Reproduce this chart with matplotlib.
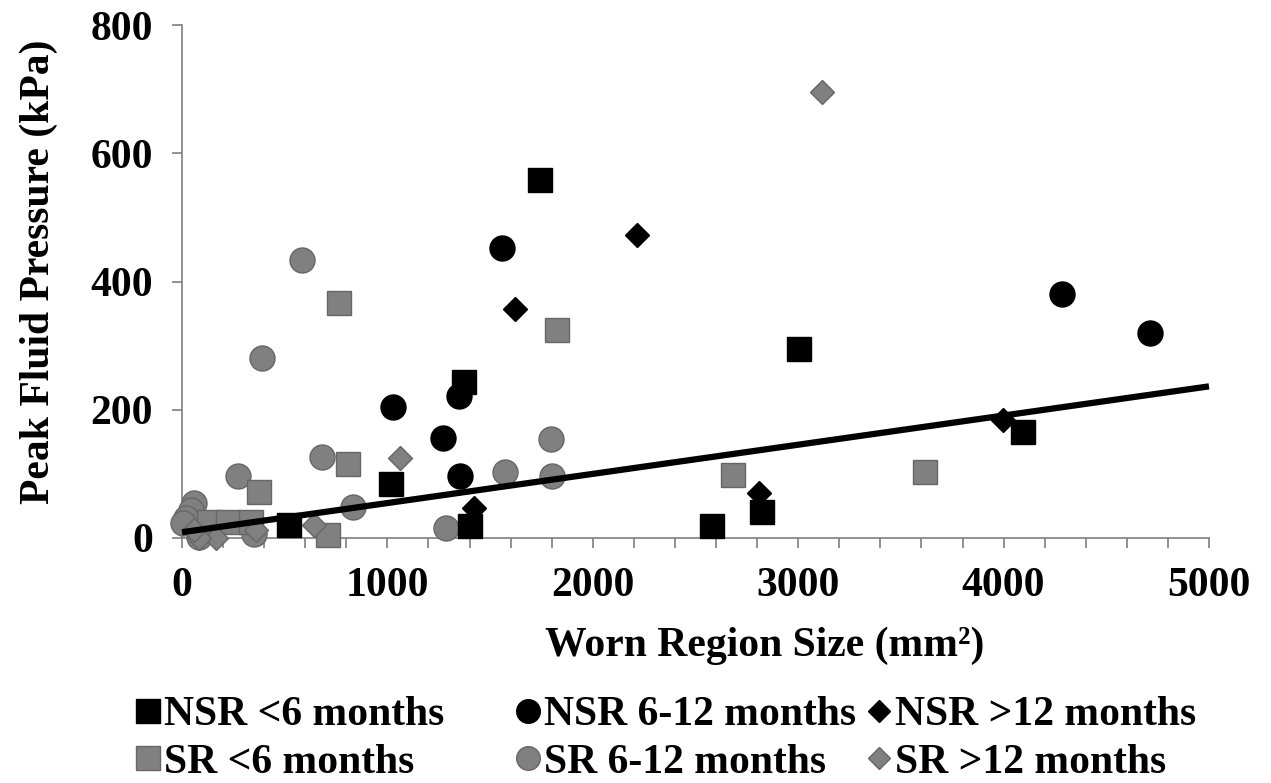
import numpy as np
import matplotlib
matplotlib.use('Agg')
import matplotlib.pyplot as plt
from matplotlib.lines import Line2D
from matplotlib.ticker import MultipleLocator

# --- Data (x: worn region size mm^2, y: peak pressure kPa)
nsr_lt6_x = [1743, 1373, 3002, 1018, 521, 1402, 2580, 2826, 4096]
nsr_lt6_y = [558, 244, 294, 84, 20, 19, 19, 41, 165]

nsr_6_12_x = [1560, 1026, 1272, 1349, 1353, 4283, 4713]
nsr_6_12_y = [453, 205, 156, 222, 97, 381, 319]

nsr_gt12_x = [2217, 1623, 1424, 2808, 3999]
nsr_gt12_y = [473, 357, 47, 70, 184]

sr_lt6_x = [766, 1824, 810, 376, 2683, 3617, 133, 222, 336, 713]
sr_lt6_y = [367, 324, 115, 72, 99, 103, 25, 25, 25, 4]

sr_6_12_x = [583, 389, 1795, 1803, 1573, 1285, 274, 680, 832, 60, 44, 19, 3, 352, 84]
sr_6_12_y = [434, 281, 154, 97, 103, 15, 96, 127, 48, 54, 44, 31, 23, 6, 2]

sr_gt12_x = [3116, 1061, 645, 360, 166, 84, 60]
sr_gt12_y = [696, 124, 20, 12, 0, 0, 12]

# linear trend line
trend_intercept = 9.0
trend_slope = 0.0455

labels = ['NSR <6 months', 'NSR 6-12 months', 'NSR >12 months',
          'SR <6 months', 'SR 6-12 months', 'SR >12 months']

plt.rcParams['font.family'] = ['Liberation Serif', 'DejaVu Serif']
plt.rcParams['font.weight'] = 'bold'

black = '#000000'
grey = '#808080'
grey_edge = '#666666'
axis_grey = '#7f7f7f'

fig = plt.figure(figsize=(12.71, 7.83), dpi=100)
ax = fig.add_axes([0.1432, 0.3129, 0.808, 0.6551])

series = [
  (sr_6_12_x, sr_6_12_y, 'o', 18, grey, grey_edge),
  (sr_lt6_x, sr_lt6_y, 's', 17, grey, grey_edge),
  (sr_gt12_x, sr_gt12_y, 'D', 12, grey, grey_edge),
  (nsr_lt6_x, nsr_lt6_y, 's', 17, black, black),
  (nsr_6_12_x, nsr_6_12_y, 'o', 18, black, black),
  (nsr_gt12_x, nsr_gt12_y, 'D', 12, black, black),
]
for xs, ys, m, ms, fc, ec in series:
  ax.plot(xs, ys, linestyle='none', marker=m, markersize=ms,
          markerfacecolor=fc, markeredgecolor=ec, markeredgewidth=1.0,
          clip_on=False, zorder=3)

# trend line
tx = np.array([0, 5000])
ax.plot(tx, trend_intercept + trend_slope * tx, color='black', linewidth=4.5,
        solid_capstyle='butt', zorder=4, clip_on=False)

ax.set_xlim(0, 5000)
ax.set_ylim(0, 800)
ax.xaxis.set_major_locator(MultipleLocator(1000))
ax.xaxis.set_minor_locator(MultipleLocator(200))
ax.yaxis.set_major_locator(MultipleLocator(200))

for s in ['top', 'right']:
  ax.spines[s].set_visible(False)
for s in ['left', 'bottom']:
  ax.spines[s].set_color(axis_grey)
  ax.spines[s].set_linewidth(1.2)

ax.tick_params(which='both', direction='out', length=7, width=1.2, color=axis_grey)
ax.tick_params(axis='x', which='minor', length=7)
ax.tick_params(axis='both', which='major', labelsize=30, pad=14)

ax.set_xlabel('Worn Region Size (mm²)', fontsize=30, fontweight='bold')
ax.set_ylabel('Peak Fluid Pressure (kPa)', fontsize=30, fontweight='bold')
# Excel put the x title a bit right of centre
ax.xaxis.set_label_coords(0.567, -0.172)
ax.yaxis.set_label_coords(-0.121, 0.52)

# legend: three fixed-width columns, like the original
def handle(m, ms, fc, ec):
  return Line2D([], [], linestyle='none', marker=m, markersize=ms,
                markerfacecolor=fc, markeredgecolor=ec, markeredgewidth=1.0)

legend_cols = [
  ([handle('s', 17, black, black), handle('s', 17, grey, grey_edge)], [labels[0], labels[3]], 0.106),
  ([handle('o', 17, black, black), handle('o', 17, grey, grey_edge)], [labels[1], labels[4]], 0.405),
  ([handle('D', 11, black, black), handle('D', 11, grey, grey_edge)], [labels[2], labels[5]], 0.681),
]
for hs, ls, x0 in legend_cols:
  fig.legend(hs, ls, loc='upper left', bbox_to_anchor=(x0, 0.111),
             frameon=False, fontsize=30, handlelength=0.65, handletextpad=0.05,
             labelspacing=0.22, borderaxespad=0, borderpad=0)

fig.savefig('out.png', dpi=100)
